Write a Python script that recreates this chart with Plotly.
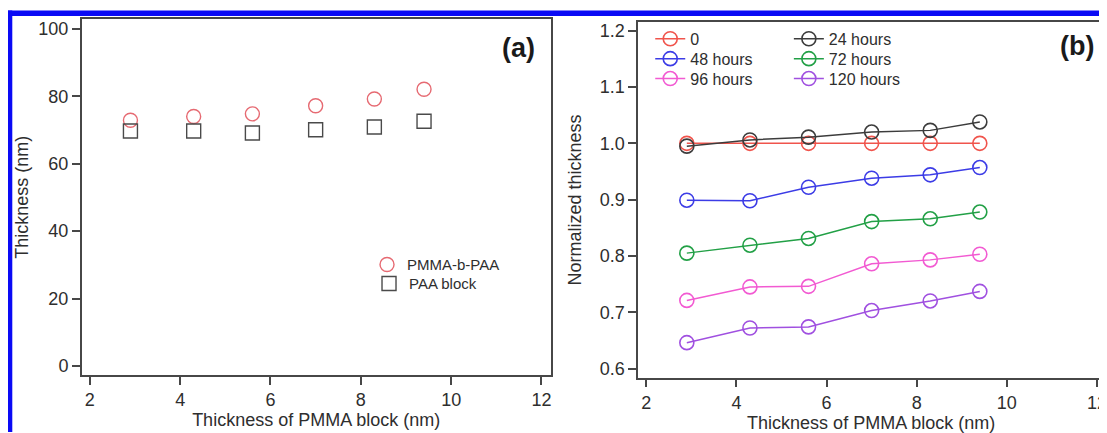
import plotly.graph_objects as go

# ---------------- data ----------------
pmma_block = [2.9, 4.3, 5.6, 7.0, 8.3, 9.4]

# panel (a)
thick_pmma_b_paa = [72.9, 74.0, 74.8, 77.2, 79.2, 82.1]
thick_paa_block = [69.7, 69.7, 69.1, 70.1, 70.9, 72.6]

# panel (b)
norm_0 = [1.000, 1.000, 1.000, 1.000, 1.000, 1.000]
norm_24 = [0.995, 1.006, 1.011, 1.020, 1.023, 1.038]
norm_48 = [0.899, 0.898, 0.922, 0.938, 0.944, 0.957]
norm_72 = [0.805, 0.819, 0.831, 0.861, 0.866, 0.878]
norm_96 = [0.721, 0.745, 0.746, 0.786, 0.793, 0.803]
norm_120 = [0.646, 0.672, 0.674, 0.703, 0.720, 0.737]

series_a_names = ["PMMA-b-PAA", "PAA block"]
series_b_names = ["0", "24 hours", "48 hours", "72 hours", "96 hours", "120 hours"]
series_b_values = [norm_0, norm_24, norm_48, norm_72, norm_96, norm_120]

ticks_a_y = [0, 20, 40, 60, 80, 100]
ticks_b_y = [0.6, 0.7, 0.8, 0.9, 1.0, 1.1, 1.2]
ticks_x = [2, 4, 6, 8, 10, 12]

# ---------------- styling ----------------
series_b_colors = ["#f0544c", "#3c3c3c", "#3c3ce6", "#22a046", "#f25ad2", "#a050e0"]
# legend anchor (viewport px) for each entry: (symbol-left x, row-centre y)
legend_b_pos = [(652, 38), (791, 38), (652, 58), (791, 58), (652, 78), (791, 78)]
legend_a_pos = [(368, 265), (370, 284)]

OFF = 8                  # page body margin of the html page
W, H = 1099, 425         # figure size so that it ends at the window edge


def fx(X):
    return (X - OFF) / W


def fy(Y):
    return 1 - (Y - OFF) / H


FONT = "Liberation Sans, Arial, sans-serif"
TXT = "#2e2e2e"
FRAME = "#474747"

fig = go.Figure()

fig.add_trace(go.Scatter(
    x=pmma_block, y=thick_pmma_b_paa, mode="markers", name=series_a_names[0],
    marker=dict(symbol="circle-open", size=14, color="#e66a72", line=dict(width=1.4)),
    xaxis="x", yaxis="y", legend="legend"))
fig.add_trace(go.Scatter(
    x=pmma_block, y=thick_paa_block, mode="markers", name=series_a_names[1],
    marker=dict(symbol="square-open", size=14, color="#4a4a4a", line=dict(width=1.4)),
    xaxis="x", yaxis="y", legend="legend2"))

for i, (name, vals, col) in enumerate(zip(series_b_names, series_b_values, series_b_colors)):
    fig.add_trace(go.Scatter(
        x=pmma_block, y=vals, mode="lines+markers", name=name,
        line=dict(color=col, width=1.5),
        marker=dict(symbol="circle-open", size=14, color=col, line=dict(width=1.6)),
        xaxis="x2", yaxis="y2", legend=f"legend{i + 3}"))

axis_common = dict(showgrid=False, zeroline=False, showline=True, linecolor=FRAME,
                   linewidth=1.6, ticks="outside", ticklen=8, tickwidth=1.5,
                   tickcolor=FRAME, tickfont=dict(family=FONT, size=18, color=TXT))

layout = dict(
    width=W, height=H,
    margin=dict(l=0, r=0, t=0, b=0),
    paper_bgcolor="white", plot_bgcolor="white",
    font=dict(family=FONT, color=TXT),
    showlegend=True,
    xaxis=dict(domain=[fx(82), fx(552)], range=[1.823, 12.2], tickvals=ticks_x,
               mirror=True, anchor="y",
               title=dict(text="Thickness of PMMA block (nm)", font=dict(size=18, color=TXT), standoff=1),
               **axis_common),
    yaxis=dict(domain=[fy(375.7), fy(18.5)], range=[-2.66, 102.8], tickvals=ticks_a_y,
               mirror=True, anchor="x",
               title=dict(text="Thickness (nm)", font=dict(size=18, color=TXT), standoff=5),
               **axis_common),
    xaxis2=dict(domain=[fx(640), 1.0], range=[1.823, 12.155], tickvals=ticks_x,
                mirror=True, anchor="y2", ticklabeloverflow="allow",
                title=dict(text="Thickness of PMMA block (nm)", font=dict(size=18, color=TXT), standoff=1),
                **axis_common),
    yaxis2=dict(domain=[fy(378.3), fy(21.5)], range=[0.584, 1.2147], tickvals=ticks_b_y,
                tickformat=".1f", mirror=False, anchor="x2",
                title=dict(text="Normalized thickness", font=dict(size=18, color=TXT), standoff=14),
                **axis_common),
)

for j, (lx, ly) in enumerate(legend_a_pos):
    key = "legend" if j == 0 else f"legend{j + 1}"
    layout[key] = dict(x=fx(lx), y=fy(ly), xanchor="left", yanchor="middle",
                       bgcolor="rgba(0,0,0,0)", font=dict(family=FONT, size=15, color=TXT))
for j, (lx, ly) in enumerate(legend_b_pos):
    layout[f"legend{j + 3}"] = dict(x=fx(lx), y=fy(ly), xanchor="left", yanchor="middle",
                                    bgcolor="rgba(0,0,0,0)", font=dict(family=FONT, size=16, color=TXT))

fig.update_layout(**layout)

# panel labels
fig.add_annotation(text="<b>(a)</b>", x=fx(520), y=fy(47), xref="paper", yref="paper",
                   xanchor="center", yanchor="middle",
                   showarrow=False, font=dict(family=FONT, size=27, color="#1a1a1a"))
fig.add_annotation(text="<b>(b)</b>", x=fx(1080), y=fy(45), xref="paper", yref="paper",
                   xanchor="center", yanchor="middle",
                   showarrow=False, font=dict(family=FONT, size=27, color="#1a1a1a"))

# blue frame of the figure
fig.add_shape(type="rect", xref="paper", yref="paper", x0=0, x1=fx(12.3), y0=0, y1=fy(9.5),
              line=dict(width=0), fillcolor="#0a0af5", layer="above")
fig.add_shape(type="rect", xref="paper", yref="paper", x0=0, x1=1, y0=fy(15), y1=fy(9.5),
              line=dict(width=0), fillcolor="#0a0af5", layer="above")

fig.write_html("out.html")
